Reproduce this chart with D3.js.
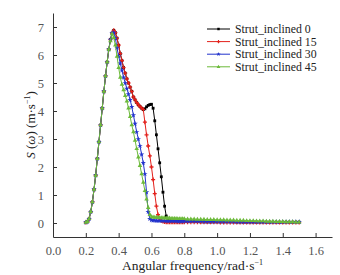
<!DOCTYPE html>
<html>
<head>
<script src="https://d3js.org/d3.v7.min.js"></script>
<style>
  body { margin: 0; background: #fff; }
  svg text { font-family: 'Liberation Serif', 'Times New Roman', Times, serif !important; }
</style>
</head>
<body>
<svg id="plt"></svg>
<script>
// angular frequency grid (rad/s)
const omega = [0.20,0.21,0.22,0.23,0.24,0.25,0.26,0.27,0.28,0.29,
  0.30,0.31,0.32,0.33,0.34,0.35,0.36,0.37,0.38,0.39,
  0.40,0.41,0.42,0.43,0.44,0.45,0.46,0.47,0.48,0.49,
  0.50,0.51,0.52,0.53,0.54,0.55,0.56,0.57,0.58,0.59,
  0.60,0.61,0.62,0.63,0.64,0.65,0.66,0.67,0.68,0.69,
  0.70,0.71,0.72,0.73,0.74,0.75,0.76,0.77,0.78,0.79,0.80,
  0.82,0.84,0.86,0.88,0.90,0.92,0.94,0.96,0.98,1.00,
  1.02,1.04,1.06,1.08,1.10,1.12,1.14,1.16,1.18,1.20,
  1.22,1.24,1.26,1.28,1.30,1.32,1.34,1.36,1.38,1.40,
  1.42,1.44,1.46,1.48,1.50];

const s0 = [0.02,0.05,0.15,0.4,0.75,1.2,1.7,2.3,2.9,3.5,
  4.1,4.7,5.25,5.75,6.2,6.55,6.78,6.88,6.8,6.6,
  6.35,6.05,5.8,5.55,5.35,5.15,5.0,4.85,4.7,4.5,
  4.4,4.3,4.22,4.16,4.1,4.05,4.08,4.15,4.2,4.23,
  4.24,4.1,3.65,3.15,2.65,2.15,1.65,1.1,0.6,0.25,
  0.13,0.09,0.08,0.07,0.07,0.06,0.06,0.06,0.06,0.05,0.05,
  0.05,0.05,0.05,0.05,0.04,0.04,0.04,0.04,0.04,0.04,
  0.04,0.04,0.04,0.04,0.04,0.03,0.03,0.03,0.03,0.03,
  0.03,0.03,0.03,0.03,0.03,0.03,0.03,0.03,0.03,0.03,
  0.03,0.03,0.03,0.03,0.03];

const s15 = [0.02,0.05,0.15,0.4,0.75,1.2,1.7,2.3,2.9,3.5,
  4.1,4.7,5.25,5.75,6.2,6.55,6.78,6.88,6.8,6.6,
  6.35,6.05,5.8,5.55,5.35,5.15,5.0,4.85,4.7,4.5,
  4.4,4.3,4.22,4.16,4.1,4.06,3.6,3.15,2.75,2.4,
  2.0,1.55,1.05,0.6,0.3,0.14,0.08,0.05,0.04,0.03,
  0.03,0.03,0.03,0.03,0.03,0.03,0.03,0.03,0.03,0.03,0.03,
  0.03,0.03,0.03,0.03,0.03,0.03,0.03,0.03,0.03,0.03,
  0.02,0.02,0.02,0.02,0.02,0.02,0.02,0.02,0.02,0.02,
  0.02,0.02,0.02,0.02,0.02,0.02,0.02,0.02,0.02,0.02,
  0.02,0.02,0.02,0.02,0.02];

const s30 = [0.02,0.05,0.15,0.4,0.75,1.2,1.7,2.3,2.9,3.5,
  4.1,4.7,5.25,5.75,6.2,6.55,6.78,6.8,6.6,6.25,
  5.95,5.7,5.45,5.2,5.0,4.8,4.6,4.4,4.15,3.85,
  3.55,3.25,3.0,2.75,2.45,2.15,1.75,1.1,0.4,0.15,
  0.1,0.09,0.09,0.08,0.08,0.08,0.08,0.08,0.08,0.07,
  0.07,0.07,0.07,0.07,0.07,0.07,0.06,0.06,0.06,0.06,0.06,
  0.06,0.06,0.06,0.06,0.06,0.05,0.05,0.05,0.05,0.05,
  0.05,0.05,0.05,0.05,0.05,0.04,0.04,0.04,0.04,0.04,
  0.04,0.04,0.04,0.04,0.04,0.04,0.04,0.04,0.04,0.04,
  0.04,0.04,0.04,0.04,0.04];

const s45 = [0.02,0.05,0.15,0.4,0.75,1.2,1.7,2.3,2.9,3.5,
  4.1,4.7,5.25,5.75,6.2,6.5,6.75,6.62,6.35,5.95,
  5.55,5.2,4.95,4.75,4.55,4.35,4.1,3.8,3.5,3.25,
  2.95,2.65,2.35,2.05,1.75,1.45,1.15,0.85,0.55,0.3,
  0.22,0.21,0.2,0.2,0.19,0.19,0.18,0.18,0.18,0.17,
  0.17,0.17,0.16,0.16,0.16,0.16,0.15,0.15,0.15,0.15,0.15,
  0.14,0.14,0.14,0.13,0.13,0.13,0.12,0.12,0.12,0.11,
  0.11,0.11,0.10,0.10,0.10,0.09,0.09,0.09,0.08,0.08,
  0.08,0.07,0.07,0.07,0.06,0.06,0.06,0.05,0.05,0.05,
  0.04,0.04,0.04,0.03,0.03];

const seriesNames = ['Strut_inclined 0','Strut_inclined 15','Strut_inclined 30','Strut_inclined 45'];
const seriesColors = ['#000000','#e3201b','#2233cc','#6cba3a'];
const seriesShapes = [d3.symbolSquare, d3.symbolCross, d3.symbolStar, d3.symbolTriangle];
const seriesValues = [s0, s15, s30, s45];

const xTicks = [0.0,0.2,0.4,0.6,0.8,1.0,1.2,1.4,1.6];
const yTicks = [0,1,2,3,4,5,6,7];

const W = 340, H = 275;
const margin = {left: 53, right: 8, top: 13, bottom: 38};
const serif = "'Liberation Serif', 'Times New Roman', Times, serif";

let svg = d3.select('#plt').attr('width', W).attr('height', H);

let x = d3.scaleLinear().domain([0, 1.7]).range([margin.left, W - margin.right]);
let y = d3.scaleLinear().domain([-0.5, 7.5]).range([H - margin.bottom, margin.top]);

// axes: ticks point inward, like the Origin-style reference
let xAxis = d3.axisBottom(x).tickValues(xTicks).tickFormat(d3.format('.1f'))
              .tickSizeInner(-4).tickSizeOuter(0).tickPadding(9);
let xMinor = d3.axisBottom(x).tickValues(d3.range(0.1, 1.7, 0.2)).tickFormat('')
              .tickSizeInner(-2).tickSizeOuter(0);
let yAxis = d3.axisLeft(y).tickValues(yTicks).tickFormat(d3.format('d'))
              .tickSizeInner(-4).tickSizeOuter(0).tickPadding(9);
let yMinor = d3.axisLeft(y).tickValues(d3.range(-0.5, 7.6, 1)).tickFormat('')
              .tickSizeInner(-2).tickSizeOuter(0);

let gx = svg.append('g').attr('transform', `translate(0,${H - margin.bottom})`);
gx.call(xMinor);
gx.call(xAxis);
let gy = svg.append('g').attr('transform', `translate(${margin.left},0)`);
gy.call(yMinor);
gy.call(yAxis);

svg.selectAll('g').attr('font-family', serif);
svg.selectAll('.domain').attr('stroke', '#333').attr('stroke-width', 1);
svg.selectAll('.tick line').attr('stroke', '#333');
svg.selectAll('.tick text').attr('font-size', 12.5).attr('fill', '#555')
   .style('font-family', serif);

// series
let line = d3.line().x(d => x(d.w)).y(d => y(d.s));
seriesValues.forEach((vals, k) => {
  let pts = omega.map((w, i) => ({w: w, s: vals[i]}));
  let g = svg.append('g');
  g.append('path').datum(pts)
    .attr('d', line)
    .attr('fill', 'none')
    .attr('stroke', seriesColors[k])
    .attr('stroke-width', 1);
  g.selectAll('path.mk').data(pts).join('path')
    .attr('class', 'mk')
    .attr('transform', d => `translate(${x(d.w)},${y(d.s)})`)
    .attr('d', d3.symbol().type(seriesShapes[k]).size(k === 0 ? 8 : 9))
    .attr('fill', seriesColors[k]);
});

// legend
let leg = svg.append('g').attr('transform', 'translate(207,29)');
seriesNames.forEach((name, k) => {
  let row = leg.append('g').attr('transform', `translate(0,${k * 12.6})`);
  row.append('line').attr('x1', 0).attr('x2', 23).attr('y1', 0).attr('y2', 0)
     .attr('stroke', seriesColors[k]).attr('stroke-width', 1);
  row.append('path').attr('transform', 'translate(11.5,0)')
     .attr('d', d3.symbol().type(seriesShapes[k]).size(6))
     .attr('fill', seriesColors[k]);
  row.append('text').attr('x', 28).attr('y', 4)
     .attr('font-size', 11.8).attr('fill', '#222')
     .style('font-family', serif).text(name);
});

// axis titles
svg.append('text')
   .attr('x', x(0.85)).attr('y', 270)
   .attr('text-anchor', 'middle').attr('font-size', 13.5).attr('fill', '#222')
   .style('font-family', serif)
   .html('Angular frequency/rad·s<tspan dy="-5" font-size="8">−1</tspan>');

let yl = svg.append('text')
   .attr('transform', `translate(35,${y(3.5)}) rotate(-90)`)
   .attr('text-anchor', 'middle').attr('font-size', 13).attr('fill', '#222')
   .style('font-family', serif);
yl.append('tspan').attr('font-style', 'italic').text('S');
yl.append('tspan').text(' (');
yl.append('tspan').attr('font-style', 'italic').text('ω');
yl.append('tspan').text(') (m·s');
yl.append('tspan').attr('dy', -5).attr('font-size', 8).text('−1');
yl.append('tspan').attr('dy', 5).text(')');
</script>
</body>
</html>
